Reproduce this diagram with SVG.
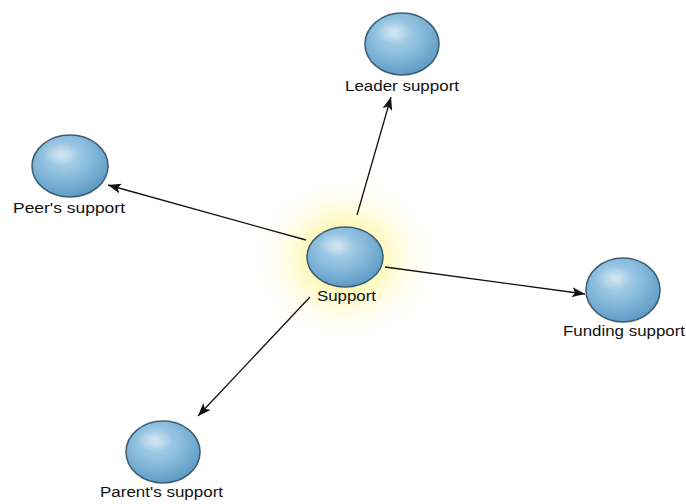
<svg xmlns="http://www.w3.org/2000/svg" width="686" height="504" viewBox="0 0 686 504">
  <style>
    .ball { fill: url(#ballGrad); stroke: #3f5f74; stroke-width: 1.6; }
    .hl { fill: url(#hlGrad); }
    .lbl { font-family: "Liberation Sans", Arial, sans-serif; font-size: 14px; fill: #111; text-anchor: middle; }
    .edge { stroke: #111; stroke-width: 1.3; fill: none; marker-end: url(#arrow); }
  </style>
  <defs>
    <radialGradient id="ballGrad" cx="0.42" cy="0.35" r="0.65">
      <stop offset="0" stop-color="#b4d6ea"/>
      <stop offset="0.45" stop-color="#8fc0df"/>
      <stop offset="1" stop-color="#5f9cc6"/>
    </radialGradient>
    <radialGradient id="hlGrad" cx="0.5" cy="0.5" r="0.5">
      <stop offset="0" stop-color="#ffffff" stop-opacity="0.45"/>
      <stop offset="1" stop-color="#ffffff" stop-opacity="0"/>
    </radialGradient>
    <radialGradient id="glow" cx="0.5" cy="0.5" r="0.5">
      <stop offset="0" stop-color="#fff27a" stop-opacity="0.95"/>
      <stop offset="0.45" stop-color="#fff6a0" stop-opacity="0.6"/>
      <stop offset="1" stop-color="#ffffff" stop-opacity="0"/>
    </radialGradient>
    <marker id="arrow" markerUnits="userSpaceOnUse" markerWidth="14" markerHeight="10" refX="13" refY="5" orient="auto">
      <path d="M0,0 L13,5 L0,10 L3,5 Z" fill="#111"/>
    </marker>
  </defs>

  <rect width="686" height="504" fill="#ffffff"/>
  <ellipse cx="345" cy="258" rx="95" ry="85" fill="url(#glow)"/>

  <g id="connectors">
    <line class="edge" x1="357" y1="215" x2="391" y2="97"/>
    <line class="edge" x1="306" y1="240" x2="108" y2="185"/>
    <line class="edge" x1="385" y1="267" x2="585" y2="294"/>
    <line class="edge" x1="310" y1="297" x2="198" y2="416"/>
  </g>

  <g id="support">
    <ellipse class="ball" cx="345" cy="257" rx="38" ry="30"/>
    <ellipse class="hl" cx="336" cy="245" rx="18" ry="12"/>
    <text class="lbl" x="346.5" y="301" textLength="59" lengthAdjust="spacingAndGlyphs">Support</text>
  </g>

  <g id="leader">
    <ellipse class="ball" cx="402" cy="44" rx="37" ry="31"/>
    <ellipse class="hl" cx="393" cy="32" rx="18" ry="12"/>
    <text class="lbl" x="402" y="91" textLength="114" lengthAdjust="spacingAndGlyphs">Leader support</text>
  </g>

  <g id="peer">
    <ellipse class="ball" cx="70" cy="166" rx="38" ry="31"/>
    <ellipse class="hl" cx="61" cy="154" rx="18" ry="12"/>
    <text class="lbl" x="69" y="213" textLength="112" lengthAdjust="spacingAndGlyphs">Peer's support</text>
  </g>

  <g id="funding">
    <ellipse class="ball" cx="623" cy="290" rx="37" ry="32"/>
    <ellipse class="hl" cx="614" cy="278" rx="18" ry="12"/>
    <text class="lbl" x="624" y="336" textLength="122" lengthAdjust="spacingAndGlyphs">Funding support</text>
  </g>

  <g id="parent">
    <ellipse class="ball" cx="163" cy="452" rx="37" ry="31"/>
    <ellipse class="hl" cx="154" cy="440" rx="18" ry="12"/>
    <text class="lbl" x="161.5" y="497" textLength="123" lengthAdjust="spacingAndGlyphs">Parent's support</text>
  </g>
</svg>
